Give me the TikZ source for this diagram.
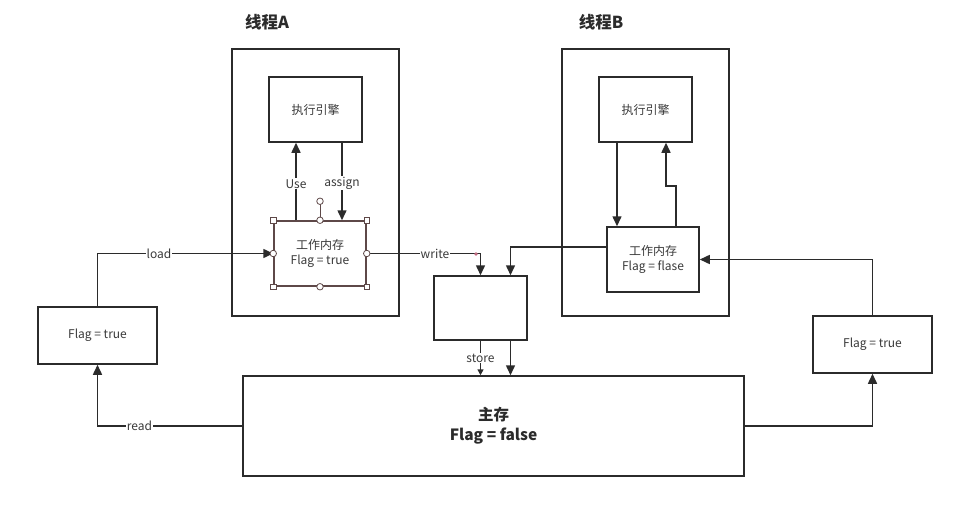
\documentclass[tikz,border=0pt]{standalone}
\usepackage{fontspec}
\setmainfont{Noto Sans CJK SC}
\usetikzlibrary{arrows.meta}
\definecolor{ink}{HTML}{2B2B2B}
\definecolor{txt}{HTML}{3A3A3A}
\definecolor{sel}{HTML}{5E4848}
\definecolor{dot}{HTML}{C06A80}
\begin{document}
\begin{tikzpicture}[x=1pt,y=-1pt,
  box/.style={draw=ink,line width=1.5pt,inner sep=0pt,align=center,font=\fontsize{12}{14.5}\selectfont,text=txt},
  conn/.style={draw=ink,line width=1.5pt},
  arr/.style={conn,-{Triangle[length=10pt,width=9pt]}},
  lbl/.style={fill=white,inner sep=1pt,font=\fontsize{12}{14}\selectfont,text=txt},
  hsq/.style={draw=sel,fill=white,line width=0.8pt,minimum size=5.5pt,inner sep=0pt},
  hci/.style={draw=sel,fill=white,line width=0.8pt,circle,minimum size=6.5pt,inner sep=0pt},
  ttl/.style={font=\fontsize{16.5}{18}\selectfont\bfseries,text=ink}]
\useasboundingbox (0,0) rectangle (963,508);
\fill[white] (0,0) rectangle (963,508);

% thread containers
\node[box,minimum width=167pt,minimum height=267pt] (tA) at (315.5,182.5) {};
\node[box,minimum width=167pt,minimum height=267pt] (tB) at (645.5,182.5) {};
\node[ttl] (tAt) at (267,22) {线程A};
\node[ttl] (tBt) at (601,22) {线程B};

% thread A
\node[box,minimum width=93pt,minimum height=65pt] (exA) at (315.5,109.5) {执行引擎};
\node[box,draw=sel,minimum width=92pt,minimum height=65pt] (wmA) at (320,253.5) {工作内存\\Flag = true};

% thread B
\node[box,minimum width=93pt,minimum height=65pt] (exB) at (645.5,109.5) {执行引擎};
\node[box,minimum width=92pt,minimum height=65pt] (wmB) at (653,259.5) {工作内存\\Flag = flase};

% other boxes
\node[box,minimum width=119pt,minimum height=57pt] (flagL) at (97.5,335.5) {Flag = true};
\node[box,minimum width=119pt,minimum height=57pt] (flagR) at (872.5,344.5) {Flag = true};
\node[box,minimum width=93pt,minimum height=64pt] (mid) at (480.5,308) {};
\node[box,minimum width=501pt,minimum height=100pt,font=\fontsize{15.5}{20}\selectfont\bfseries,text=ink] (main) at (493.5,426) {主存\\Flag = false};

% thread A internal
\draw[arr] ([xshift=-24pt]wmA.north) -- ([xshift=-24pt]wmA.north |- exA.south)
  node[lbl,pos=0.47] {Use};
\draw[arr] ([xshift=26.5pt]exA.south) -- ([xshift=26.5pt]exA.south |- wmA.north)
  node[lbl,pos=0.52] {assign};

% thread B internal
\draw[arr] ([xshift=-28.5pt]exB.south) -- ([xshift=-28.5pt]exB.south |- wmB.north);
\draw[arr] ([xshift=23pt]wmB.north) |- ([xshift=20.5pt,yshift=-43pt]exB.south) -- ([xshift=20.5pt]exB.south);

% load / read
\draw[arr] (flagL.north) |- (wmA.west) node[lbl,pos=0.675] {load};
\draw[arr] (main.west) -| (flagL.south) node[lbl,pos=0.355] {read};

% right side
\draw[arr] (main.east) -| (flagR.south);
\draw[arr] (flagR.north) |- (wmB.east);

% write / B to mid
\draw[arr] (wmA.east) -| (mid.north) node[lbl,pos=0.3] {write};
\draw[arr] ([yshift=12.5pt]wmB.west) -| ([xshift=30pt]mid.north);

% store
\draw[conn,-{Triangle[length=6pt,width=6pt]}] (mid.south) -- (mid.south |- main.north)
  node[lbl,pos=0.5] {store};
\draw[arr] ([xshift=30pt]mid.south) -- ([xshift=30pt]mid.south |- main.north);

% selection handles on wmA
\coordinate (rot) at ([yshift=19pt]wmA.north);
\draw[sel,line width=0.8pt] (wmA.north) -- (rot);
\node[hci] (h0) at (rot) {};
\node[hsq] (h1) at (wmA.north west) {};
\node[hsq] (h2) at (wmA.north east) {};
\node[hsq] (h3) at (wmA.south west) {};
\node[hsq] (h4) at (wmA.south east) {};
\node[hci] (h5) at (wmA.north) {};
\node[hci] (h6) at (wmA.south) {};
\node[hci] (h7) at (wmA.west) {};
\node[hci] (h8) at (wmA.east) {};
\fill[dot] (476,254) circle (1.8pt);
\end{tikzpicture}
\end{document}
